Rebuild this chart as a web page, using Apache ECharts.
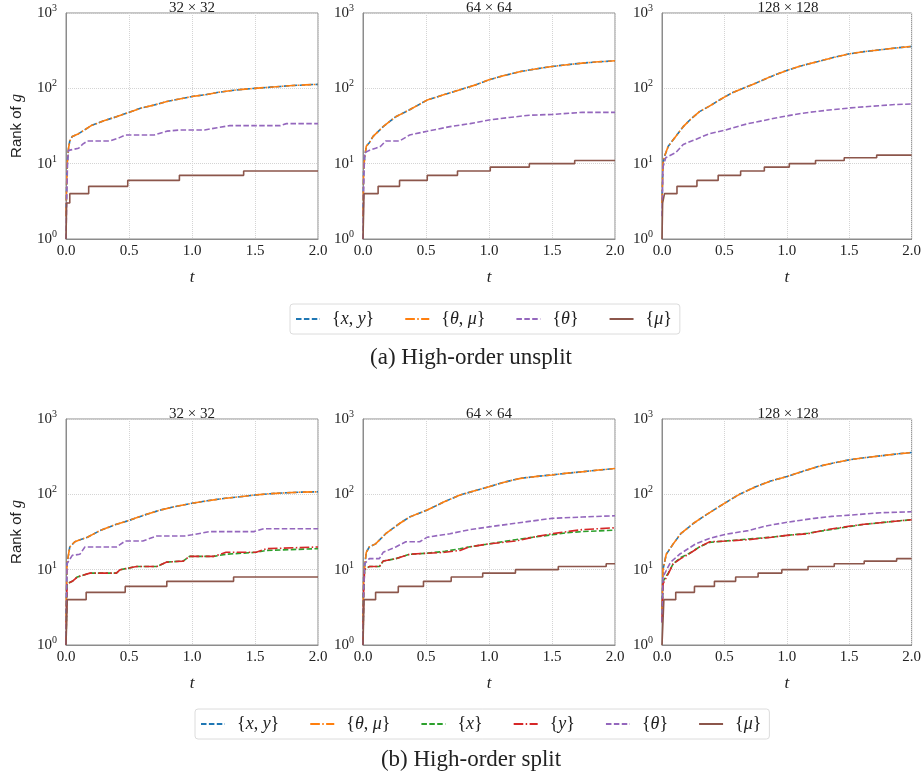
<!DOCTYPE html>
<html>
<head>
<meta charset="utf-8">
<script src="https://cdn.jsdelivr.net/npm/echarts@6/dist/echarts.min.js"></script>
<style>
html, body { margin: 0; padding: 0; background: #fff; }
#fig { width: 924px; height: 782px; }
</style>
</head>
<body>
<div id="fig"></div>
<script>
// panel titles and tick labels
const panelTitles = ['32 × 32', '64 × 64', '128 × 128']
const captions = ['(a) High-order unsplit', '(b) High-order split']
const xTicks = [0, 0.5, 1.0, 1.5, 2.0]

// (a) high-order unsplit, [t, rank]
const thmu_a32 = [[0,2],[0.005,5],[0.01,10],[0.02,16],[0.03,20],[0.05,23],[0.1,25],[0.2,32],[0.3,37],[0.4,42],[0.5,48],[0.6,55],[0.7,60],[0.8,67],[0.9,72],[1.0,78],[1.1,82],[1.2,88],[1.3,93],[1.4,97],[1.5,100],[1.6,103],[1.7,106],[1.8,109],[1.9,111],[2.0,113]]
const xy_a32 = thmu_a32
const th_a32 = [[0,1],[0.005,3],[0.012,10],[0.02,15],[0.1,16],[0.13,18],[0.17,20],[0.35,20],[0.42,22],[0.47,24],[0.7,24],[0.8,27],[0.9,28],[1.1,28],[1.2,30],[1.3,32],[1.7,32],[1.75,34],[2.0,34]]
const mu_a32 = [[0,1],[0.005,3],[0.03,4],[0.18,5],[0.49,6],[0.9,7],[1.41,8],[2.0,8]]

const thmu_a64 = [[0,2],[0.005,8],[0.013,12],[0.026,17],[0.05,19],[0.08,23],[0.16,31],[0.26,42],[0.37,52],[0.51,70],[0.64,82],[0.77,96],[0.9,112],[1.0,130],[1.12,148],[1.25,167],[1.38,182],[1.5,195],[1.62,206],[1.74,216],[1.87,225],[2.0,232]]
const xy_a64 = thmu_a64
const th_a64 = [[0,1],[0.005,5],[0.013,14],[0.05,15],[0.1,16],[0.14,17],[0.18,20],[0.29,20],[0.37,24],[0.51,27],[0.69,31],[0.85,34],[1.0,38],[1.16,41],[1.32,44],[1.5,45],[1.74,48],[2.0,48]]
const mu_a64 = [[0,1],[0.008,4],[0.12,5],[0.29,6],[0.51,7],[0.75,8],[1.01,9],[1.32,10],[1.68,11],[2.0,11]]

const thmu_a128 = [[0,3],[0.008,10],[0.02,12.5],[0.05,17],[0.11,23],[0.17,31],[0.23,39],[0.3,49],[0.38,58],[0.46,70],[0.56,87],[0.65,100],[0.75,117],[0.87,143],[1.0,173],[1.12,200],[1.25,227],[1.38,258],[1.5,287],[1.62,307],[1.75,325],[1.87,343],[2.0,360]]
const xy_a128 = thmu_a128
const th_a128 = [[0,2],[0.008,9],[0.03,12],[0.11,14],[0.17,18],[0.27,21],[0.38,25],[0.51,28],[0.6,31],[0.69,34],[0.8,37],[0.9,40],[1.0,43],[1.1,46],[1.22,49],[1.36,52],[1.51,55],[1.63,57],[1.75,59],[1.87,61],[2.0,62]]
const mu_a128 = [[0,1],[0.005,3],[0.02,4],[0.12,5],[0.28,6],[0.45,7],[0.63,8],[0.82,9],[1.02,10],[1.23,11],[1.46,12],[1.72,13],[2.0,13]]

// (b) high-order split
const thmu_b32 = [[0,2],[0.008,12],[0.03,20],[0.07,23.5],[0.17,27],[0.27,33],[0.38,39],[0.5,45],[0.62,53],[0.75,62],[0.87,69],[1.0,76],[1.12,82],[1.25,88],[1.38,93],[1.5,98],[1.62,102],[1.75,105],[1.87,107],[2.0,108]]
const xy_b32 = thmu_b32
const x_b32 = [[0,1],[0.008,6.5],[0.05,7],[0.09,8],[0.19,9],[0.4,9],[0.43,10],[0.56,11],[0.72,11],[0.8,12.6],[0.93,13],[0.98,15],[1.17,15],[1.27,16],[1.51,17],[1.59,18],[2.0,19]]
const y_b32 = [[0,1],[0.008,6.5],[0.05,7],[0.09,8],[0.19,9],[0.4,9],[0.43,10],[0.56,11],[0.72,11],[0.8,12.6],[0.93,13],[0.98,15],[1.17,15],[1.27,17],[1.51,17],[1.59,19],[2.0,20]]
const th_b32 = [[0,1],[0.008,12],[0.05,15.5],[0.11,16],[0.15,20],[0.4,20],[0.47,24],[0.61,24],[0.72,28],[0.94,28],[1.0,29],[1.14,32],[1.49,32],[1.57,35],[2.0,35]]
const mu_b32 = [[0,1],[0.01,4],[0.16,5],[0.47,6],[0.8,7],[1.33,8],[2.0,8]]

const thmu_b64 = [[0,2],[0.005,8],[0.013,11],[0.026,17],[0.05,20],[0.1,22],[0.18,30],[0.29,41],[0.37,50],[0.51,62],[0.64,79],[0.77,98],[0.9,113],[1.0,126],[1.12,145],[1.25,163],[1.38,173],[1.5,181],[1.62,191],[1.75,200],[1.87,210],[2.0,220]]
const xy_b64 = thmu_b64
const x_b64 = [[0,1],[0.005,5],[0.013,10],[0.05,11],[0.13,11],[0.16,13],[0.26,14],[0.37,16],[0.5,16.5],[0.65,17.5],[0.77,19],[0.84,20],[1.0,22],[1.21,25],[1.35,27],[1.5,29],[1.62,31],[1.74,32],[2.0,33.5]]
const y_b64 = [[0,1],[0.005,5],[0.013,10],[0.05,11],[0.13,11],[0.16,13],[0.26,14],[0.37,16],[0.5,16.5],[0.65,17],[0.77,18],[0.84,20],[1.0,22],[1.21,24],[1.35,27],[1.5,30],[1.62,32],[1.74,34],[2.0,36]]
const th_b64 = [[0,1],[0.005,5],[0.013,12],[0.05,14],[0.13,14],[0.16,17],[0.26,20],[0.34,23.5],[0.45,23.5],[0.51,27],[0.69,30],[0.85,34],[1.0,37],[1.24,42],[1.5,48],[1.74,50],[2.0,52]]
const mu_b64 = [[0,1],[0.008,4],[0.1,5],[0.28,6],[0.48,7],[0.7,8],[0.95,9],[1.21,10],[1.55,11],[1.93,12],[2.0,12]]

const thmu_b128 = [[0,3],[0.008,10],[0.034,16],[0.09,22],[0.15,30],[0.25,41],[0.35,53],[0.5,76],[0.62,100],[0.75,126],[0.87,150],[1.0,172],[1.12,200],[1.25,234],[1.38,262],[1.5,287],[1.62,306],[1.75,324],[1.87,342],[2.0,359]]
const xy_b128 = thmu_b128
const x_b128 = [[0,2],[0.008,7],[0.05,9],[0.09,12],[0.15,14.5],[0.22,16.5],[0.3,20],[0.38,23],[0.51,24],[0.69,25.5],[0.88,27],[1.0,28.5],[1.17,30.5],[1.3,33],[1.51,37.5],[1.62,40],[1.75,42],[1.87,44],[2.0,46]]
const y_b128 = [[0,2],[0.008,6.5],[0.05,8.8],[0.09,12],[0.15,14],[0.22,16.3],[0.3,20],[0.38,23.4],[0.51,24],[0.69,25],[0.88,27],[1.0,28.5],[1.17,30],[1.3,33.5],[1.51,38],[1.62,40],[1.75,42],[1.87,44],[2.0,46]]
const th_b128 = [[0,2],[0.008,8],[0.05,11],[0.07,12.6],[0.14,16],[0.27,22],[0.38,26],[0.51,29.5],[0.69,33],[0.83,38],[0.98,42],[1.1,45],[1.22,48],[1.36,51],[1.51,53],[1.63,55],[1.75,57],[2.0,58.7]]
const mu_b128 = [[0,1],[0.015,4],[0.11,5],[0.26,6],[0.42,7],[0.59,8],[0.77,9],[0.96,10],[1.17,11],[1.38,12],[1.62,13],[1.88,14],[2.0,14]]

const panels = [
    { xy: xy_a32, thmu: thmu_a32, th: th_a32, mu: mu_a32 },
    { xy: xy_a64, thmu: thmu_a64, th: th_a64, mu: mu_a64 },
    { xy: xy_a128, thmu: thmu_a128, th: th_a128, mu: mu_a128 },
    { xy: xy_b32, thmu: thmu_b32, x: x_b32, y: y_b32, th: th_b32, mu: mu_b32 },
    { xy: xy_b64, thmu: thmu_b64, x: x_b64, y: y_b64, th: th_b64, mu: mu_b64 },
    { xy: xy_b128, thmu: thmu_b128, x: x_b128, y: y_b128, th: th_b128, mu: mu_b128 }
]

const SERIF = 'Liberation Serif'
const dashed = [5.5, 2.4]
const dashDot = [9.6, 2.4, 1.5, 2.4]
const styles = {
    xy: { color: '#1f77b4', type: dashed },
    thmu: { color: '#ff7f0e', type: dashDot },
    x: { color: '#2ca02c', type: dashed },
    y: { color: '#d62728', type: dashDot },
    th: { color: '#9467bd', type: dashed },
    mu: { color: '#8c564b', type: 'solid' }
}
const labels = {
    xy: '{{i|x}, {i|y}}',
    thmu: '{{i|θ}, {i|μ}}',
    x: '{{i|x}}',
    y: '{{i|y}}',
    th: '{{i|θ}}',
    mu: '{{i|μ}}'
}
const order = ['xy', 'thmu', 'x', 'y', 'th', 'mu']

const lefts = [66, 363, 662]
const tops = [13, 419]
const W = 252
const H = 226
const frame = '#8c8c8c'

const grids = []
const xAxes = []
const yAxes = []
const series = []
const titles = []

panels.forEach(function (p, i) {
    const col = i % 3
    const row = Math.floor(i / 3)
    grids.push({ left: lefts[col], top: tops[row], width: W, height: H, show: true, borderColor: frame, borderWidth: 1, backgroundColor: 'transparent' })
    xAxes.push({
        gridIndex: i, type: 'value', min: 0, max: 2, interval: 0.5,
        name: 't', nameLocation: 'middle', nameGap: 30,
        nameTextStyle: { fontFamily: SERIF, fontStyle: 'italic', fontSize: 17, color: '#222' },
        axisLine: { lineStyle: { color: frame } },
        axisTick: { show: false },
        axisLabel: { margin: 5, fontFamily: SERIF, fontSize: 15, color: '#222', formatter: v => v.toFixed(1) },
        splitLine: { show: true, lineStyle: { color: '#d4d4d4', type: 'dotted', width: 1 } }
    })
    yAxes.push({
        gridIndex: i, type: 'log', logBase: 10, min: 1, max: 1000,
        name: col === 0 ? '{s|Rank of }{g|g}' : '',
        nameLocation: 'middle', nameGap: 41,
        nameTextStyle: { rich: {
            s: { fontFamily: 'Liberation Sans', fontSize: 15, color: '#222' },
            g: { fontFamily: SERIF, fontStyle: 'italic', fontSize: 16, color: '#222' }
        } },
        axisLine: { show: true, lineStyle: { color: frame } },
        axisTick: { show: false },
        axisLabel: {
            margin: 9,
            formatter: v => '{b|10}{e|' + Math.round(Math.log10(v)) + '}',
            rich: {
                b: { fontFamily: SERIF, fontSize: 15, color: '#222' },
                e: { fontFamily: SERIF, fontSize: 10, color: '#222', padding: [0, 0, 9, 0] }
            }
        },
        splitLine: { show: true, lineStyle: { color: '#d4d4d4', type: 'dotted', width: 1 } }
    })
    titles.push({
        text: panelTitles[col], left: lefts[col] + W / 2, top: tops[row] - 12, textAlign: 'center', padding: 0,
        textStyle: { fontFamily: SERIF, fontSize: 15, fontWeight: 'normal', color: '#222' }
    })
    order.forEach(function (key) {
        if (!p[key]) return
        const s = styles[key]
        series.push({
            name: key, type: 'line', data: p[key],
            xAxisIndex: i, yAxisIndex: i,
            symbol: 'none', step: key === 'mu' ? 'end' : false,
            lineStyle: { color: s.color, width: 1.6, type: s.type },
            itemStyle: { color: s.color },
            animation: false
        })
    })
})

titles.push({ text: captions[0], left: 471, top: 346, textAlign: 'center', padding: 0, textStyle: { fontFamily: SERIF, fontSize: 23, fontWeight: 'normal', color: '#222' } })
titles.push({ text: captions[1], left: 471, top: 748, textAlign: 'center', padding: 0, textStyle: { fontFamily: SERIF, fontSize: 23, fontWeight: 'normal', color: '#222' } })

function legend (names, left, top) {
    return {
        data: names, left: left, top: top, orient: 'horizontal',
        itemWidth: 24, itemHeight: 14, itemGap: 30,
        padding: [6, 8, 6, 5],
        borderColor: '#dcdcdc', borderWidth: 1, borderRadius: 3,
        itemStyle: { opacity: 0 },
        formatter: n => labels[n],
        textStyle: {
            fontFamily: SERIF, fontSize: 18, color: '#222', padding: [0, 0, 0, 7],
            rich: { i: { fontFamily: SERIF, fontStyle: 'italic', fontSize: 18, color: '#222' } }
        }
    }
}

const chart = echarts.init(document.getElementById('fig'))
chart.setOption({
    backgroundColor: '#fff',
    animation: false,
    title: titles,
    grid: grids,
    xAxis: xAxes,
    yAxis: yAxes,
    legend: [
        legend(['xy', 'thmu', 'th', 'mu'], 290, 304),
        legend(['xy', 'thmu', 'x', 'y', 'th', 'mu'], 195, 709)
    ],
    series: series
})
</script>
</body>
</html>
